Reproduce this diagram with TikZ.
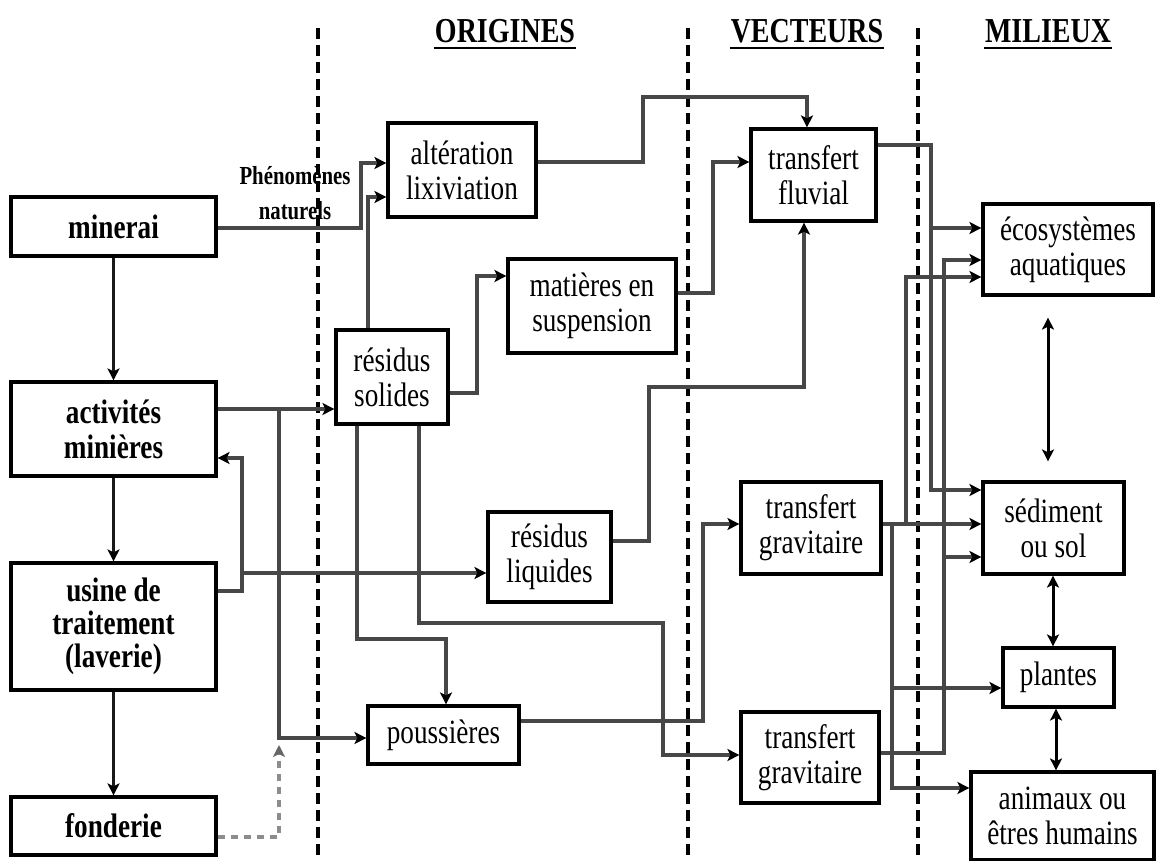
\documentclass[tikz,border=0pt]{standalone}
\usepackage{fontspec}
\setmainfont{Liberation Serif}[FakeStretch=0.8]
\usetikzlibrary{arrows.meta}
\begin{document}
\begin{tikzpicture}[x=1pt,y=-1pt,
  box/.style={draw, fill=white, line width=3.2pt, inner sep=0pt, align=center,
    font=\fontsize{34}{35}\selectfont},
  bbox/.style={box, font=\fontsize{34}{35}\selectfont\bfseries},
  tip/.tip={Stealth[black,length=12pt,width=12pt,inset=3pt]},
  conn/.style={draw=black!72, line width=3.4pt, -tip},
  vconn/.style={draw=black!90, line width=3.2pt, -tip},
  bidir/.style={draw=black, line width=3pt, tip-tip},
  sep/.style={draw=black, line width=3.2pt, dash pattern=on 11pt off 6pt},
  head/.style={inner sep=0pt, font=\fontsize{35}{35}\selectfont\bfseries}]
\fill[white] (0,0) rectangle (1156,861);
\useasboundingbox (0,0) rectangle (1156,861);
% separators
\coordinate (s1t) at (318,28); \coordinate (s1b) at (318,861);
\coordinate (s2t) at (688,28); \coordinate (s2b) at (688,861);
\coordinate (s3t) at (918,28); \coordinate (s3b) at (918,861);
\draw[sep] (s1t) -- (s1b);
\draw[sep] (s2t) -- (s2b);
\draw[sep] (s3t) -- (s3b);
% headers
\node[head, anchor=base] (h1) at (505,43) {ORIGINES};
\node[head, anchor=base] (h2) at (807,43) {VECTEURS};
\node[head, anchor=base] (h3) at (1048,43) {MILIEUX};
\foreach \h in {h1,h2,h3}
  \draw[line width=2.8pt] ([xshift=-1pt,yshift=-5pt]\h.base west) -- ([xshift=1pt,yshift=-5pt]\h.base east);
\node[inner sep=0pt, align=center, font=\fontsize{26}{35}\selectfont\bfseries] (phen) at (295,193) {Phénomènes\\naturels};
% boxes
\node[bbox, minimum width=205pt, minimum height=59pt] (min) at (113.5,226.5) {minerai};
\node[bbox, minimum width=205pt, minimum height=94pt] (act) at (113.5,429) {activités\\minières};
\node[bbox, minimum width=205pt, minimum height=127pt, font=\fontsize{34}{33}\selectfont\bfseries] (usi) at (113.5,626.5) {usine de\\traitement\\(laverie)};
\node[bbox, minimum width=205pt, minimum height=58pt] (fon) at (113.5,826) {fonderie};
\node[box, minimum width=148pt, minimum height=94pt] (alt) at (462,170) {altération\\lixiviation};
\node[box, minimum width=168pt, minimum height=94pt] (mat) at (592,306) {matières en\\suspension};
\node[box, minimum width=112pt, minimum height=94pt] (rsol) at (392,377) {résidus\\solides};
\node[box, minimum width=123pt, minimum height=90pt] (rliq) at (549.5,557) {résidus\\liquides};
\node[box, minimum width=151pt, minimum height=58pt] (pou) at (443.5,735) {poussières};
\node[box, minimum width=125pt, minimum height=92pt] (tfl) at (813.5,175) {transfert\\fluvial};
\node[box, minimum width=140pt, minimum height=92pt] (tg1) at (811,528) {transfert\\gravitaire};
\node[box, minimum width=138pt, minimum height=91pt] (tg2) at (810,757.5) {transfert\\gravitaire};
\node[box, minimum width=170pt, minimum height=91pt] (eco) at (1068,249.5) {écosystèmes\\aquatiques};
\node[box, minimum width=141pt, minimum height=92pt] (sed) at (1053.5,528) {sédiment\\ou sol};
\node[box, minimum width=111pt, minimum height=59pt] (pla) at (1058.5,677.5) {plantes};
\node[box, minimum width=183pt, minimum height=88pt] (ani) at (1062.5,816) {animaux ou\\êtres humains};
% junctions
\coordinate (j1) at (279,409);
\coordinate (j2) at (242,573);
\coordinate (j3) at (931,228);
\coordinate (j4) at (906,524);
\coordinate (j5) at (892,524);
\coordinate (j6) at (892,688);
\coordinate (j7) at (944,557);
% left column
\draw[vconn] (min.south) -- (act.north);
\draw[vconn] (act.south) -- (usi.north);
\draw[vconn] (usi.south) -- (fon.north);
\draw[conn] (min.east |- 0,228) -- (361,228) -- (361,163) -- (alt.west |- 0,163);
\draw[conn] (rsol.north -| 368,0) -- (368,197) -- (alt.west |- 0,197);
\draw[conn] (rsol.east |- 0,393) -- (477,393) -- (477,276) -- (mat.west |- 0,276);
\draw[conn] (act.east |- 0,409) -- (rsol.west |- 0,409);
\draw[conn] (j1) -- (279,738) -- (pou.west |- 0,738);
\draw[draw=black!45, line width=3.4pt, dash pattern=on 7pt off 6pt,
  -{Stealth[black!60,length=12pt,width=12pt,inset=3pt]}] (fon.east |- 0,837) -- (279,837) -- (279,745);
\draw[conn] (usi.east |- 0,591) -- (242,591) -- (242,458) -- (act.east |- 0,458);
\draw[conn] (j2) -- (rliq.west |- 0,573);
\draw[conn] (rsol.south -| 357,0) -- (357,639) -- (446,639) -- (pou.north -| 446,0);
\draw[conn] (rsol.south -| 419,0) -- (419,623) -- (663,623) -- (663,755) -- (tg2.west |- 0,755);
\draw[conn] (pou.east |- 0,721) -- (703,721) -- (703,524) -- (tg1.west |- 0,524);
\draw[conn] (rliq.east |- 0,541) -- (649,541) -- (649,387) -- (804,387) -- (tfl.south -| 804,0);
\draw[conn] (alt.east |- 0,162) -- (643,162) -- (643,97) -- (807,97) -- (tfl.north -| 807,0);
\draw[conn] (mat.east |- 0,293) -- (713,293) -- (713,162) -- (tfl.west |- 0,162);
% right side
\draw[conn] (tfl.east |- 0,145) -- (931,145) -- (931,490) -- (sed.west |- 0,490);
\draw[conn] (j3) -- (eco.west |- 0,228);
\draw[conn] (tg1.east |- 0,524) -- (sed.west |- 0,524);
\draw[conn] (j4) -- (906,277) -- (eco.west |- 0,277);
\draw[conn] (j5) -- (892,788) -- (ani.west |- 0,788);
\draw[conn] (j6) -- (pla.west |- 0,688);
\draw[conn] (tg2.east |- 0,753) -- (944,753) -- (944,260) -- (eco.west |- 0,260);
\draw[conn] (j7) -- (sed.west |- 0,557);
\draw[bidir, shorten <=21pt, shorten >=19pt] (eco.south -| 1048,0) -- (sed.north -| 1048,0);
\draw[bidir] (sed.south -| 1053,0) -- (pla.north -| 1053,0);
\draw[bidir] (pla.south -| 1056,0) -- (ani.north -| 1056,0);
\end{tikzpicture}
\end{document}
